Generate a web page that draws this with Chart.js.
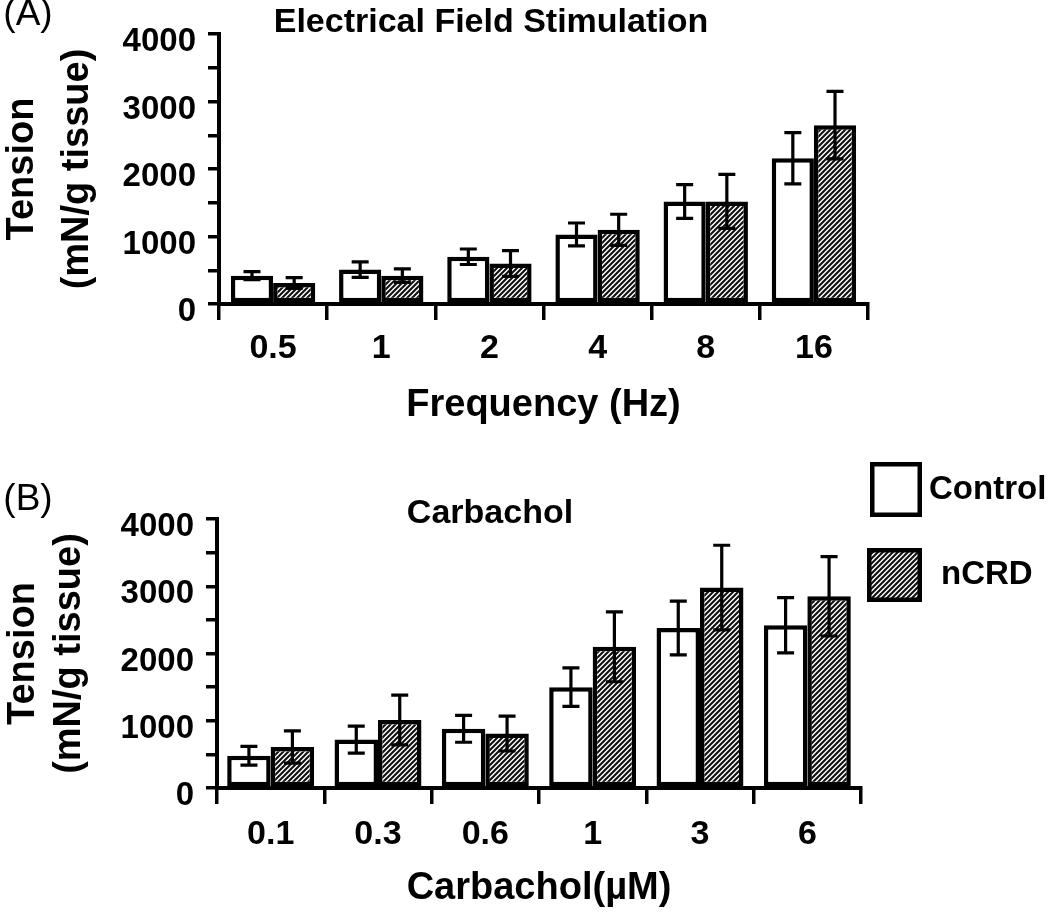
<!DOCTYPE html>
<html>
<head>
<meta charset="utf-8">
<script src="https://cdn.jsdelivr.net/npm/chart.js@4.4.1/dist/chart.umd.min.js"></script>
<style>
  body { margin: 0; background: #fff; }
  #wrap { position: relative; width: 1050px; height: 914px; }
  canvas { position: absolute; left: 0; }
  #panelA { top: 0; }
  #panelB { top: 460px; }
</style>
</head>
<body>
<div id="wrap">
  <canvas id="panelA" width="1050" height="460"></canvas>
  <canvas id="panelB" width="1050" height="454"></canvas>
</div>
<script>
// Panel A - electrical field stimulation
const freqLabels = ["0.5", "1", "2", "4", "8", "16"];
const efsControl = [420, 510, 700, 1030, 1520, 2160];
const efsControlErr = [60, 115, 115, 170, 250, 380];
const efsNcrd = [310, 420, 600, 1100, 1520, 2650];
const efsNcrdErr = [80, 100, 190, 230, 400, 500];

// Panel B - carbachol
const carbLabels = ["0.1", "0.3", "0.6", "1", "3", "6"];
const carbControl = [480, 720, 880, 1500, 2380, 2420];
const carbControlErr = [140, 200, 200, 285, 400, 410];
const carbNcrd = [610, 1010, 810, 2100, 2980, 2850];
const carbNcrdErr = [240, 370, 260, 520, 630, 590];

const yTicks = [0, 1000, 2000, 3000, 4000];

const FONT = '"Liberation Sans", Arial, sans-serif';
Chart.defaults.font.family = FONT;
Chart.defaults.color = "#000";

function hatch() {
  const c = document.createElement("canvas");
  c.width = c.height = 5;
  const g = c.getContext("2d");
  g.fillStyle = "#fff";
  g.fillRect(0, 0, 5, 5);
  g.strokeStyle = "#111";
  g.lineWidth = 2.1;
  g.beginPath();
  g.moveTo(-1, 6); g.lineTo(6, -1);
  g.moveTo(-1, 1); g.lineTo(1, -1);
  g.moveTo(4, 6); g.lineTo(6, 4);
  g.stroke();
  return g.createPattern(c, "repeat");
}
const hatchFill = hatch();

// error bars from dataset.errors, through the y scale
const errorBars = {
  id: "errorBars",
  afterDatasetsDraw(chart) {
    const ctx = chart.ctx;
    const y = chart.scales.y;
    ctx.save();
    ctx.strokeStyle = "#000";
    ctx.lineWidth = 3.2;
    chart.data.datasets.forEach((ds, i) => {
      chart.getDatasetMeta(i).data.forEach((bar, j) => {
        const top = y.getPixelForValue(ds.data[j] + ds.errors[j]);
        const bot = y.getPixelForValue(ds.data[j] - ds.errors[j]);
        ctx.beginPath();
        ctx.moveTo(bar.x, top); ctx.lineTo(bar.x, bot);
        ctx.moveTo(bar.x - 8.5, top); ctx.lineTo(bar.x + 8.5, top);
        ctx.moveTo(bar.x - 8.5, bot); ctx.lineTo(bar.x + 8.5, bot);
        ctx.stroke();
      });
    });
    ctx.restore();
  },
};

// panel letters, titles and the legend
const decor = {
  id: "decor",
  afterDraw(chart, args, opts) {
    const ctx = chart.ctx;
    ctx.save();
    ctx.fillStyle = "#000";
    ctx.textBaseline = "middle";
    (opts.texts || []).forEach((t) => {
      ctx.font = t.font;
      ctx.textAlign = t.align || "center";
      ctx.fillText(t.text, t.x, t.y);
    });
    (opts.legend || []).forEach((l, i) => {
      const ds = chart.data.datasets[i];
      ctx.fillStyle = ds.backgroundColor;
      ctx.fillRect(l.x, l.y, l.w, l.h);
      ctx.strokeStyle = "#000";
      ctx.lineWidth = 4.5;
      ctx.strokeRect(l.x + 2.25, l.y + 2.25, l.w - 4.5, l.h - 4.5);
      ctx.fillStyle = "#000";
      ctx.font = "bold 33px " + FONT;
      ctx.textAlign = "left";
      ctx.fillText(ds.label, l.tx, l.y + l.h / 2);
    });
    ctx.restore();
  },
};

function makePanel(id, labels, ctrl, ctrlErr, ncrd, ncrdErr, p) {
  return new Chart(document.getElementById(id), {
    type: "bar",
    data: {
      labels: labels,
      datasets: [
        {
          label: "Control",
          data: ctrl,
          errors: ctrlErr,
          backgroundColor: "#fff",
          borderColor: "#000",
          borderWidth: 4.5,
          borderSkipped: false,
        },
        {
          label: "nCRD",
          data: ncrd,
          errors: ncrdErr,
          backgroundColor: hatchFill,
          borderColor: "#000",
          borderWidth: 4.5,
          borderSkipped: false,
        },
      ],
    },
    plugins: [errorBars, decor],
    options: {
      responsive: false,
      animation: false,
      layout: { padding: { left: 0, top: p.top, right: p.right, bottom: 0 } },
      categoryPercentage: p.catPct,
      barPercentage: 1.0,
      plugins: {
        legend: { display: false },
        tooltip: { enabled: false },
        decor: { texts: p.texts, legend: p.legend },
      },
      scales: {
        x: {
          afterFit: (s) => { s.height = p.xHeight; },
          border: { color: "#000", width: 4 },
          grid: { offset: true, drawOnChartArea: false, color: "#000", lineWidth: 3.5, tickWidth: 3.5, tickLength: 16 },
          ticks: { color: "#000", padding: p.xTickPad, font: { size: 34, weight: "bold" } },
          title: {
            display: true,
            text: p.xTitle,
            color: "#000",
            font: { size: 38, weight: "bold" },
            padding: { top: 0, bottom: p.xTitlePad },
          },
        },
        y: {
          min: 0,
          max: 4000,
          afterFit: (s) => { s.width = p.yWidth; },
          border: { color: "#000", width: 4 },
          grid: { drawOnChartArea: false, color: "#000", lineWidth: 3.5, tickWidth: 3.5, tickLength: 11 },
          ticks: {
            stepSize: 500,
            autoSkip: false,
            padding: 12,
            labelOffset: 8,
            color: "#000",
            font: { size: 33, weight: "bold" },
            callback: (v) => (yTicks.includes(v) ? v : ""),
          },
          title: {
            display: true,
            text: ["Tension", "(mN/g tissue)"],
            color: "#000",
            font: { size: 38, weight: "bold", lineHeight: p.yTitleLH },
            padding: { top: p.yTitlePad, bottom: 0 },
          },
        },
      },
    },
  });
}

makePanel("panelA", freqLabels, efsControl, efsControlErr, efsNcrd, efsNcrdErr, {
  top: 34,
  right: 182,
  xHeight: 156,
  yWidth: 219,
  catPct: 0.78,
  xTickPad: 8,
  xTitle: "Frequency (Hz)",
  xTitlePad: 32,
  yTitleLH: 1.45,
  yTitlePad: -5,
  texts: [
    { text: "(A)", x: 28, y: 15, font: "37px " + FONT },
    { text: "Electrical Field Stimulation", x: 491, y: 23, font: "bold 34px " + FONT },
  ],
  legend: [],
});

makePanel("panelB", carbLabels, carbControl, carbControlErr, carbNcrd, carbNcrdErr, {
  top: 59,
  right: 189,
  xHeight: 126,
  yWidth: 217,
  catPct: 0.81,
  xTickPad: 10,
  xTitle: "Carbachol(\u00b5M)",
  xTitlePad: 3,
  yTitleLH: 1.22,
  yTitlePad: 0,
  texts: [
    { text: "(B)", x: 28, y: 40, font: "37px " + FONT },
    { text: "Carbachol", x: 490, y: 54, font: "bold 34px " + FONT },
  ],
  legend: [
    { x: 870, y: 2, w: 52, h: 55, tx: 929 },
    { x: 867, y: 88, w: 55, h: 54, tx: 941 },
  ],
});
</script>
</body>
</html>
